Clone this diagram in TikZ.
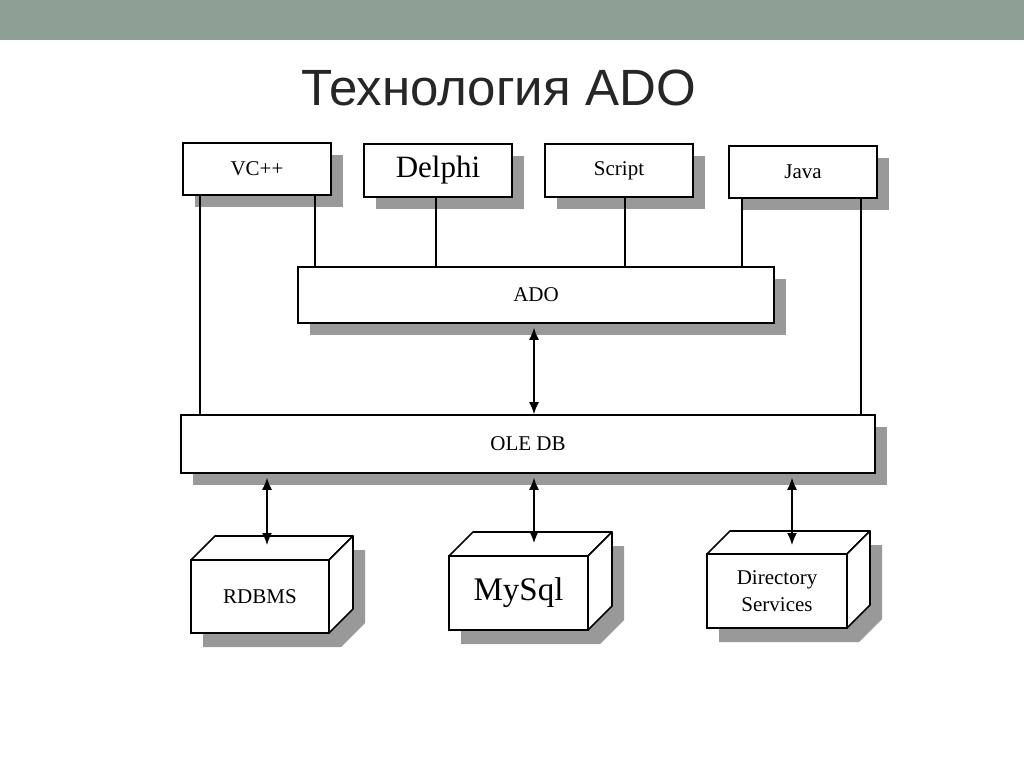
\documentclass[tikz,border=0pt]{standalone}
\usepackage{fontspec}
\setmainfont{Liberation Serif}
\newfontfamily\titlefont{Liberation Sans}
\usetikzlibrary{shadows,arrows.meta}
\definecolor{barcol}{HTML}{8E9F96}
\definecolor{shadowgray}{HTML}{999999}
\definecolor{titlecol}{HTML}{262626}
\begin{document}
\begin{tikzpicture}[x=1pt,y=-1pt,
  box/.style={draw, line width=1.6pt, fill=white, inner sep=0pt,
    drop shadow={shadow xshift=12pt, shadow yshift=-12pt, fill=shadowgray, opacity=1}},
  cubefront/.style={draw, line width=1.6pt, fill=white, inner sep=0pt},
  cubeface/.style={draw, line width=1.6pt, fill=white, line join=round},
  cubeshadow/.style={fill=shadowgray},
  conn/.style={line width=1.5pt},
  biarrow/.style={conn, {Latex[length=12pt,width=10pt]}-{Latex[length=12pt,width=10pt]}},
  lab/.style={font=\fontsize{21}{25}\selectfont}]
\useasboundingbox (0,0) rectangle (1024,768);
\fill[barcol] (0,0) rectangle (1024,40);
\node[anchor=base, text=titlecol, font=\titlefont\fontsize{51}{60}\selectfont, inner sep=0pt] (title) at (498.5,105) {Технология ADO};

% top boxes
\node[box, lab, minimum width=148pt, minimum height=52pt] (vc) at (257,169) {VC++};
\node[box, font=\fontsize{31}{36}\selectfont, minimum width=148pt, minimum height=53pt] (delphi) at (438,170.5) {Delphi};
\node[box, lab, minimum width=148pt, minimum height=53pt] (script) at (619,170.5) {Script};
\node[box, lab, minimum width=148pt, minimum height=52pt] (java) at (803,172) {Java};
% middle layers
\node[box, lab, minimum width=476pt, minimum height=56pt] (ado) at (536,295) {ADO};
\node[box, lab, minimum width=694pt, minimum height=58pt] (oledb) at (528,444) {OLE DB};

% cubes: RDBMS
\fill[cubeshadow] (203,647) -- (203,574) -- (227,550) -- (365,550) -- (365,623) -- (341,647) -- cycle;
\draw[cubeface] (191,560) -- (215,536) -- (353,536) -- (329,560) -- cycle;
\draw[cubeface] (329,560) -- (353,536) -- (353,609) -- (329,633) -- cycle;
\node[cubefront, lab, minimum width=138pt, minimum height=73pt] (rdbms) at (260,596.5) {RDBMS};
% MySql
\fill[cubeshadow] (461,644) -- (461,570) -- (485,546) -- (624,546) -- (624,620) -- (600,644) -- cycle;
\draw[cubeface] (449,556) -- (473,532) -- (612,532) -- (588,556) -- cycle;
\draw[cubeface] (588,556) -- (612,532) -- (612,606) -- (588,630) -- cycle;
\node[cubefront, font=\fontsize{33}{38}\selectfont, minimum width=139pt, minimum height=74pt] (mysql) at (518.5,593) {\raisebox{8pt}{MySql}};
% Directory Services
\fill[cubeshadow] (719,642) -- (719,568) -- (742,545) -- (882,545) -- (882,619) -- (859,642) -- cycle;
\draw[cubeface] (707,554) -- (730,531) -- (870,531) -- (847,554) -- cycle;
\draw[cubeface] (847,554) -- (870,531) -- (870,605) -- (847,628) -- cycle;
\node[cubefront, font=\fontsize{21}{27}\selectfont, align=center, minimum width=140pt, minimum height=74pt] (dir) at (777,591) {Directory\\Services};

\coordinate (rdbmsin) at (267,545);
\coordinate (mysqlin) at (534,543);
\coordinate (dirin) at (792,545);

% connectors from top boxes
\draw[conn] ([xshift=18pt]vc.south west) -- ([xshift=18pt]vc.south west |- oledb.north);
\draw[conn] ([xshift=133pt]vc.south west) -- ([xshift=133pt]vc.south west |- ado.north);
\draw[conn] ([xshift=-2pt]delphi.south) -- ([xshift=-2pt]delphi.south |- ado.north);
\draw[conn] ([xshift=6pt]script.south) -- ([xshift=6pt]script.south |- ado.north);
\draw[conn] ([xshift=14pt]java.south west) -- ([xshift=14pt]java.south west |- ado.north);
\draw[conn] ([xshift=133pt]java.south west) -- ([xshift=133pt]java.south west |- oledb.north);

% arrows
\draw[biarrow] ([xshift=-2pt,yshift=-4pt]ado.south) -- ([xshift=-2pt]ado.south |- oledb.north);
\draw[biarrow] ([yshift=-4pt]oledb.south -| rdbmsin) -- (rdbmsin);
\draw[biarrow] ([yshift=-4pt]oledb.south -| mysqlin) -- (mysqlin);
\draw[biarrow] ([yshift=-4pt]oledb.south -| dirin) -- (dirin);
\end{tikzpicture}
\end{document}
